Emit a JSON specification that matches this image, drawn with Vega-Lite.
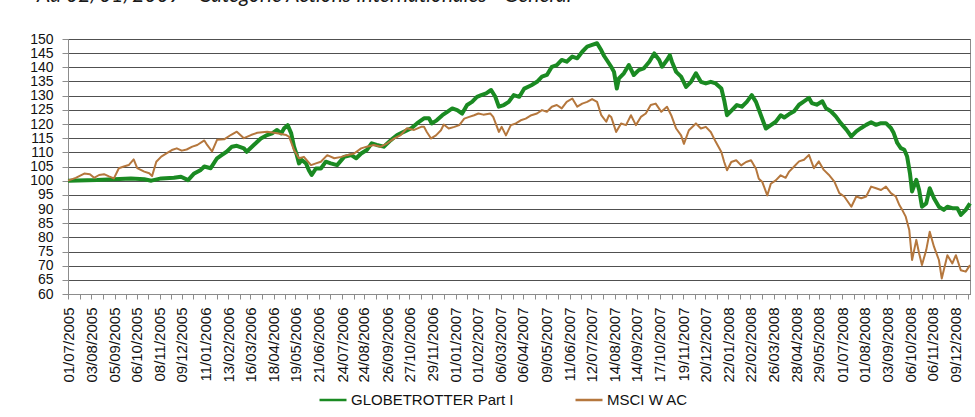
{
  "$schema": "https://vega.github.io/schema/vega-lite/v6.json",
  "width": 902,
  "height": 255,
  "autosize": {"type": "none"},
  "padding": {"left": 68, "top": 39, "right": 5, "bottom": 123},
  "background": "white",
  "title": {"text": "Au 02/01/2009 - Catégorie Actions Internationales - Général", "anchor": "start", "frame": "group", "font": "Lato", "fontStyle": "italic", "fontWeight": "normal", "fontSize": 21, "color": "#1a1a1a", "dx": -31, "dy": 14, "offset": 23, "baseline": "alphabetic"},
  "config": {
    "view": {"stroke": "#8c8c8c", "strokeWidth": 1},
    "axis": {"labelFont": "Liberation Sans", "labelFontSize": 15, "labelColor": "#111111", "tickColor": "#8c8c8c", "domainColor": "#8c8c8c", "title": null}
  },
  "datasets": {
    "globetrotter": [
      {"d":"2005-07-01","v":100},{"d":"2005-08-11","v":100.2},{"d":"2005-09-28","v":100.8},{"d":"2005-10-17","v":100.5},{"d":"2005-10-27","v":100},{"d":"2005-11-10","v":100.8},{"d":"2005-11-28","v":101},{"d":"2005-12-08","v":101.4},{"d":"2005-12-18","v":100.2},{"d":"2005-12-26","v":102.4},
      {"d":"2006-01-05","v":103.8},{"d":"2006-01-10","v":105},{"d":"2006-01-19","v":104.4},{"d":"2006-01-28","v":107.9},{"d":"2006-02-04","v":109.1},{"d":"2006-02-11","v":110.3},{"d":"2006-02-18","v":112},{"d":"2006-02-25","v":112.3},{"d":"2006-03-07","v":111.4},{"d":"2006-03-11","v":110.2},
      {"d":"2006-03-21","v":112.6},{"d":"2006-03-31","v":114.9},{"d":"2006-04-09","v":116.1},{"d":"2006-04-16","v":116.7},{"d":"2006-04-23","v":117.9},{"d":"2006-04-29","v":116.7},{"d":"2006-05-03","v":118.5},{"d":"2006-05-08","v":119.6},{"d":"2006-05-13","v":116.7},{"d":"2006-05-17","v":112},
      {"d":"2006-05-21","v":109},{"d":"2006-05-24","v":106.1},{"d":"2006-05-28","v":107.3},{"d":"2006-06-03","v":106.1},{"d":"2006-06-07","v":103.7},{"d":"2006-06-11","v":102},{"d":"2006-06-17","v":104.3},{"d":"2006-06-24","v":104.3},{"d":"2006-07-01","v":106.7},{"d":"2006-07-08","v":106.1},
      {"d":"2006-07-17","v":105.5},{"d":"2006-07-27","v":108.4},{"d":"2006-08-06","v":109},{"d":"2006-08-13","v":107.9},{"d":"2006-08-20","v":109.6},{"d":"2006-08-28","v":110.8},{"d":"2006-09-04","v":113.2},{"d":"2006-09-11","v":112.6},{"d":"2006-09-21","v":112},{"d":"2006-10-01","v":114.3},
      {"d":"2006-10-10","v":116.1},{"d":"2006-10-20","v":117.3},{"d":"2006-10-30","v":118.5},{"d":"2006-11-07","v":120.2},{"d":"2006-11-17","v":122},{"d":"2006-11-24","v":122},{"d":"2006-11-28","v":120.2},{"d":"2006-12-05","v":121.3},{"d":"2006-12-13","v":123.1},{"d":"2006-12-20","v":124.3},
      {"d":"2006-12-27","v":125.5},{"d":"2007-01-03","v":124.9},{"d":"2007-01-10","v":123.7},{"d":"2007-01-17","v":126.7},{"d":"2007-01-24","v":127.8},{"d":"2007-01-31","v":129.6},{"d":"2007-02-06","v":130.2},{"d":"2007-02-13","v":130.8},{"d":"2007-02-20","v":132},{"d":"2007-02-26","v":129.6},
      {"d":"2007-03-03","v":126.1},{"d":"2007-03-10","v":126.7},{"d":"2007-03-17","v":127.8},{"d":"2007-03-24","v":130.2},{"d":"2007-04-01","v":129.6},{"d":"2007-04-08","v":132.5},{"d":"2007-04-18","v":133.7},{"d":"2007-04-26","v":134.9},{"d":"2007-05-03","v":136.7},{"d":"2007-05-10","v":137.3},
      {"d":"2007-05-17","v":140.2},{"d":"2007-05-24","v":140.8},{"d":"2007-05-31","v":142.6},{"d":"2007-06-07","v":142},{"d":"2007-06-15","v":143.8},{"d":"2007-06-22","v":143.2},{"d":"2007-06-29","v":145.5},{"d":"2007-07-06","v":147.3},{"d":"2007-07-13","v":147.9},{"d":"2007-07-20","v":148.5},
      {"d":"2007-07-26","v":146},{"d":"2007-07-30","v":144},{"d":"2007-08-03","v":142.5},{"d":"2007-08-09","v":140.2},{"d":"2007-08-13","v":138.4},{"d":"2007-08-17","v":132.5},{"d":"2007-08-20","v":136.1},{"d":"2007-08-27","v":137.9},{"d":"2007-09-03","v":140.8},{"d":"2007-09-10","v":137.3},
      {"d":"2007-09-17","v":139},{"d":"2007-09-24","v":139.6},{"d":"2007-10-02","v":142},{"d":"2007-10-09","v":144.9},{"d":"2007-10-16","v":142.6},{"d":"2007-10-20","v":140.2},{"d":"2007-10-27","v":142.6},{"d":"2007-10-31","v":144.3},{"d":"2007-11-03","v":142},{"d":"2007-11-09","v":138.4},
      {"d":"2007-11-16","v":136.7},{"d":"2007-11-23","v":133.1},{"d":"2007-11-30","v":134.9},{"d":"2007-12-07","v":137.9},{"d":"2007-12-14","v":134.9},{"d":"2007-12-21","v":134.3},{"d":"2007-12-28","v":134.9},{"d":"2008-01-04","v":134.3},{"d":"2008-01-12","v":132.5},{"d":"2008-01-16","v":128.4},
      {"d":"2008-01-20","v":123.1},{"d":"2008-01-27","v":124.9},{"d":"2008-02-03","v":126.7},{"d":"2008-02-10","v":126.1},{"d":"2008-02-17","v":127.8},{"d":"2008-02-24","v":130.2},{"d":"2008-03-01","v":127.8},{"d":"2008-03-08","v":123.1},{"d":"2008-03-15","v":118.4},{"d":"2008-03-22","v":119.6},
      {"d":"2008-03-29","v":120.8},{"d":"2008-04-05","v":123.1},{"d":"2008-04-10","v":122.3},{"d":"2008-04-17","v":123.5},{"d":"2008-04-24","v":124.5},{"d":"2008-05-01","v":126.8},{"d":"2008-05-08","v":128},{"d":"2008-05-15","v":129.2},{"d":"2008-05-19","v":127.4},{"d":"2008-05-26","v":126.8},
      {"d":"2008-06-03","v":128},{"d":"2008-06-08","v":125.6},{"d":"2008-06-15","v":124.5},{"d":"2008-06-22","v":122.7},{"d":"2008-06-29","v":120.3},{"d":"2008-07-07","v":118},{"d":"2008-07-14","v":115.6},{"d":"2008-07-21","v":117.4},{"d":"2008-07-28","v":118.6},{"d":"2008-08-04","v":119.7},
      {"d":"2008-08-11","v":120.6},{"d":"2008-08-18","v":119.7},{"d":"2008-08-25","v":120.3},{"d":"2008-09-01","v":120.3},{"d":"2008-09-08","v":118.6},{"d":"2008-09-12","v":116.8},{"d":"2008-09-17","v":113.3},{"d":"2008-09-22","v":111.5},{"d":"2008-09-27","v":110.9},{"d":"2008-10-01","v":108.5},
      {"d":"2008-10-05","v":102.6},{"d":"2008-10-08","v":96.2},{"d":"2008-10-14","v":100.3},{"d":"2008-10-18","v":96.7},{"d":"2008-10-22","v":90.8},{"d":"2008-10-28","v":92},{"d":"2008-11-02","v":97.3},{"d":"2008-11-08","v":93.8},{"d":"2008-11-15","v":90.8},{"d":"2008-11-22","v":89.7},
      {"d":"2008-11-27","v":90.8},{"d":"2008-12-04","v":90.3},{"d":"2008-12-11","v":90.3},{"d":"2008-12-16","v":87.9},{"d":"2008-12-23","v":89.7},{"d":"2008-12-29","v":92}
    ],
    "msci": [
      {"d":"2005-07-01","v":100},{"d":"2005-07-12","v":101},{"d":"2005-07-24","v":102.5},{"d":"2005-08-01","v":102.3},{"d":"2005-08-07","v":101},{"d":"2005-08-14","v":102},{"d":"2005-08-21","v":102.3},{"d":"2005-08-28","v":101.5},{"d":"2005-09-04","v":100.8},{"d":"2005-09-11","v":104.4},
      {"d":"2005-09-18","v":105},{"d":"2005-09-25","v":105.5},{"d":"2005-10-02","v":107.5},{"d":"2005-10-07","v":104.4},{"d":"2005-10-17","v":103.2},{"d":"2005-10-24","v":102.6},{"d":"2005-10-28","v":101.6},{"d":"2005-11-03","v":106.7},{"d":"2005-11-10","v":108.5},{"d":"2005-11-18","v":109.7},
      {"d":"2005-11-25","v":110.8},{"d":"2005-12-02","v":111.4},{"d":"2005-12-09","v":110.6},{"d":"2005-12-16","v":111},{"d":"2005-12-24","v":112},{"d":"2005-12-31","v":112.6},{"d":"2006-01-10","v":114.2},{"d":"2006-01-14","v":112.6},{"d":"2006-01-21","v":110.3},{"d":"2006-01-28","v":114.4},
      {"d":"2006-02-07","v":114.6},{"d":"2006-02-17","v":116.2},{"d":"2006-02-25","v":117.3},{"d":"2006-03-07","v":115},{"d":"2006-03-17","v":116.1},{"d":"2006-03-26","v":116.9},{"d":"2006-04-09","v":117.3},{"d":"2006-04-23","v":116.7},{"d":"2006-05-06","v":116.1},{"d":"2006-05-10","v":115.5},
      {"d":"2006-05-17","v":110.8},{"d":"2006-05-24","v":107.9},{"d":"2006-05-31","v":108.4},{"d":"2006-06-10","v":105.5},{"d":"2006-06-17","v":106.1},{"d":"2006-06-24","v":106.7},{"d":"2006-07-03","v":109},{"d":"2006-07-13","v":107.9},{"d":"2006-07-23","v":108.4},{"d":"2006-07-31","v":109},
      {"d":"2006-08-10","v":109.6},{"d":"2006-08-20","v":111.4},{"d":"2006-08-28","v":112},{"d":"2006-09-07","v":112.6},{"d":"2006-09-17","v":112},{"d":"2006-09-26","v":113.2},{"d":"2006-10-06","v":114.9},{"d":"2006-10-15","v":116.1},{"d":"2006-10-24","v":118.5},{"d":"2006-11-03","v":117.9},
      {"d":"2006-11-13","v":119},{"d":"2006-11-17","v":119},{"d":"2006-11-21","v":117.2},{"d":"2006-11-27","v":114.9},{"d":"2006-12-04","v":116},{"d":"2006-12-11","v":117.8},{"d":"2006-12-15","v":119.8},{"d":"2006-12-22","v":118.4},{"d":"2006-12-30","v":119},{"d":"2007-01-06","v":119.6},
      {"d":"2007-01-13","v":121.9},{"d":"2007-01-20","v":122.5},{"d":"2007-01-27","v":123.1},{"d":"2007-02-02","v":123.7},{"d":"2007-02-09","v":123.3},{"d":"2007-02-19","v":123.7},{"d":"2007-02-23","v":122.5},{"d":"2007-03-03","v":117.2},{"d":"2007-03-07","v":119},{"d":"2007-03-13","v":116},
      {"d":"2007-03-20","v":119.6},{"d":"2007-03-27","v":120.2},{"d":"2007-04-03","v":121.3},{"d":"2007-04-10","v":121.9},{"d":"2007-04-18","v":123.1},{"d":"2007-04-26","v":123.7},{"d":"2007-05-03","v":124.9},{"d":"2007-05-10","v":124.3},{"d":"2007-05-17","v":126.1},{"d":"2007-05-24","v":126.7},
      {"d":"2007-05-31","v":125.5},{"d":"2007-06-07","v":127.8},{"d":"2007-06-15","v":129},{"d":"2007-06-22","v":126.1},{"d":"2007-06-29","v":127.2},{"d":"2007-07-06","v":127.8},{"d":"2007-07-13","v":128.8},{"d":"2007-07-20","v":127.8},{"d":"2007-07-26","v":123.1},{"d":"2007-08-02","v":120.8},
      {"d":"2007-08-06","v":123.1},{"d":"2007-08-09","v":122.5},{"d":"2007-08-16","v":117.2},{"d":"2007-08-23","v":120.2},{"d":"2007-08-30","v":119.6},{"d":"2007-09-06","v":123.1},{"d":"2007-09-13","v":119.6},{"d":"2007-09-20","v":122.5},{"d":"2007-09-27","v":123.7},{"d":"2007-10-04","v":126.7},
      {"d":"2007-10-11","v":127.2},{"d":"2007-10-19","v":124.3},{"d":"2007-10-27","v":126.1},{"d":"2007-11-02","v":123.1},{"d":"2007-11-09","v":118.4},{"d":"2007-11-16","v":116},{"d":"2007-11-20","v":113},{"d":"2007-11-27","v":117.8},{"d":"2007-12-07","v":120.2},{"d":"2007-12-14","v":118.4},
      {"d":"2007-12-21","v":119},{"d":"2007-12-28","v":117.2},{"d":"2008-01-04","v":113.7},{"d":"2008-01-12","v":110.1},{"d":"2008-01-16","v":106.6},{"d":"2008-01-20","v":103.7},{"d":"2008-01-26","v":106.6},{"d":"2008-02-02","v":107.2},{"d":"2008-02-09","v":105.4},{"d":"2008-02-16","v":106.6},
      {"d":"2008-02-23","v":107.2},{"d":"2008-03-01","v":104.2},{"d":"2008-03-05","v":100.7},{"d":"2008-03-10","v":99.5},{"d":"2008-03-17","v":94.8},{"d":"2008-03-22","v":98.9},{"d":"2008-03-29","v":100.1},{"d":"2008-04-05","v":101.9},{"d":"2008-04-12","v":101},{"d":"2008-04-17","v":103.2},
      {"d":"2008-04-24","v":105},{"d":"2008-05-01","v":106.8},{"d":"2008-05-08","v":107.4},{"d":"2008-05-15","v":109.1},{"d":"2008-05-22","v":104.4},{"d":"2008-05-29","v":106.8},{"d":"2008-06-05","v":103.8},{"d":"2008-06-12","v":102.1},{"d":"2008-06-20","v":99.7},{"d":"2008-06-27","v":95.6},
      {"d":"2008-07-04","v":94.4},{"d":"2008-07-14","v":90.8},{"d":"2008-07-21","v":94.4},{"d":"2008-07-28","v":93.8},{"d":"2008-08-04","v":94.4},{"d":"2008-08-11","v":97.9},{"d":"2008-08-18","v":97.3},{"d":"2008-08-25","v":96.7},{"d":"2008-09-01","v":97.9},{"d":"2008-09-08","v":95.6},
      {"d":"2008-09-15","v":94.4},{"d":"2008-09-20","v":91.4},{"d":"2008-09-24","v":89.7},{"d":"2008-09-29","v":87.3},{"d":"2008-10-04","v":82.6},{"d":"2008-10-08","v":72},{"d":"2008-10-14","v":79.1},{"d":"2008-10-18","v":74.3},{"d":"2008-10-22","v":70.2},{"d":"2008-10-28","v":75.5},
      {"d":"2008-11-02","v":82},{"d":"2008-11-08","v":76.7},{"d":"2008-11-15","v":72},{"d":"2008-11-19","v":65.5},{"d":"2008-11-27","v":73.7},{"d":"2008-12-04","v":70.8},{"d":"2008-12-09","v":73.7},{"d":"2008-12-16","v":68.4},{"d":"2008-12-23","v":67.9},{"d":"2008-12-29","v":70.2}
    ]
  },
  "encoding": {
    "x": {
      "field": "d", "type": "temporal",
      "scale": {"type": "utc", "domain": [{"year": 2005, "month": 7, "date": 1, "utc": true}, {"year": 2008, "month": 12, "date": 29, "utc": true}]},
      "axis": {
        "labelAngle": 270, "labelFlush": false, "labelOverlap": false, "labelPadding": 8, "tickSize": 5, "grid": false,
        "labelExpr": "utchours(datum.value) == 12 ? '' : utcFormat(datum.value, '%d/%m/%Y')",
        "values": [
          {"year":2005,"month":7,"date":1,"utc":true},{"year":2005,"month":7,"date":17,"hours":12,"utc":true},
          {"year":2005,"month":8,"date":3,"utc":true},{"year":2005,"month":8,"date":19,"hours":12,"utc":true},
          {"year":2005,"month":9,"date":5,"utc":true},{"year":2005,"month":9,"date":21,"hours":12,"utc":true},
          {"year":2005,"month":10,"date":6,"utc":true},{"year":2005,"month":10,"date":22,"hours":12,"utc":true},
          {"year":2005,"month":11,"date":8,"utc":true},{"year":2005,"month":11,"date":24,"hours":12,"utc":true},
          {"year":2005,"month":12,"date":9,"utc":true},{"year":2005,"month":12,"date":25,"hours":12,"utc":true},
          {"year":2006,"month":1,"date":11,"utc":true},{"year":2006,"month":1,"date":27,"hours":12,"utc":true},
          {"year":2006,"month":2,"date":13,"utc":true},{"year":2006,"month":3,"date":1,"hours":12,"utc":true},
          {"year":2006,"month":3,"date":16,"utc":true},{"year":2006,"month":4,"date":1,"hours":12,"utc":true},
          {"year":2006,"month":4,"date":18,"utc":true},{"year":2006,"month":5,"date":4,"hours":12,"utc":true},
          {"year":2006,"month":5,"date":19,"utc":true},{"year":2006,"month":6,"date":4,"hours":12,"utc":true},
          {"year":2006,"month":6,"date":21,"utc":true},{"year":2006,"month":7,"date":7,"hours":12,"utc":true},
          {"year":2006,"month":7,"date":24,"utc":true},{"year":2006,"month":8,"date":9,"hours":12,"utc":true},
          {"year":2006,"month":8,"date":24,"utc":true},{"year":2006,"month":9,"date":9,"hours":12,"utc":true},
          {"year":2006,"month":9,"date":26,"utc":true},{"year":2006,"month":10,"date":12,"hours":12,"utc":true},
          {"year":2006,"month":10,"date":27,"utc":true},{"year":2006,"month":11,"date":12,"hours":12,"utc":true},
          {"year":2006,"month":11,"date":29,"utc":true},{"year":2006,"month":12,"date":15,"hours":12,"utc":true},
          {"year":2007,"month":1,"date":1,"utc":true},{"year":2007,"month":1,"date":17,"hours":12,"utc":true},
          {"year":2007,"month":2,"date":1,"utc":true},{"year":2007,"month":2,"date":17,"hours":12,"utc":true},
          {"year":2007,"month":3,"date":6,"utc":true},{"year":2007,"month":3,"date":22,"hours":12,"utc":true},
          {"year":2007,"month":4,"date":6,"utc":true},{"year":2007,"month":4,"date":22,"hours":12,"utc":true},
          {"year":2007,"month":5,"date":9,"utc":true},{"year":2007,"month":5,"date":25,"hours":12,"utc":true},
          {"year":2007,"month":6,"date":11,"utc":true},{"year":2007,"month":6,"date":27,"hours":12,"utc":true},
          {"year":2007,"month":7,"date":12,"utc":true},{"year":2007,"month":7,"date":28,"hours":12,"utc":true},
          {"year":2007,"month":8,"date":14,"utc":true},{"year":2007,"month":8,"date":30,"hours":12,"utc":true},
          {"year":2007,"month":9,"date":14,"utc":true},{"year":2007,"month":9,"date":30,"hours":12,"utc":true},
          {"year":2007,"month":10,"date":17,"utc":true},{"year":2007,"month":11,"date":2,"hours":12,"utc":true},
          {"year":2007,"month":11,"date":19,"utc":true},{"year":2007,"month":12,"date":5,"hours":12,"utc":true},
          {"year":2007,"month":12,"date":20,"utc":true},{"year":2008,"month":1,"date":5,"hours":12,"utc":true},
          {"year":2008,"month":1,"date":22,"utc":true},{"year":2008,"month":2,"date":7,"hours":12,"utc":true},
          {"year":2008,"month":2,"date":22,"utc":true},{"year":2008,"month":3,"date":9,"hours":12,"utc":true},
          {"year":2008,"month":3,"date":26,"utc":true},{"year":2008,"month":4,"date":11,"hours":12,"utc":true},
          {"year":2008,"month":4,"date":28,"utc":true},{"year":2008,"month":5,"date":14,"hours":12,"utc":true},
          {"year":2008,"month":5,"date":29,"utc":true},{"year":2008,"month":6,"date":14,"hours":12,"utc":true},
          {"year":2008,"month":7,"date":1,"utc":true},{"year":2008,"month":7,"date":17,"hours":12,"utc":true},
          {"year":2008,"month":8,"date":1,"utc":true},{"year":2008,"month":8,"date":17,"hours":12,"utc":true},
          {"year":2008,"month":9,"date":3,"utc":true},{"year":2008,"month":9,"date":19,"hours":12,"utc":true},
          {"year":2008,"month":10,"date":6,"utc":true},{"year":2008,"month":10,"date":22,"hours":12,"utc":true},
          {"year":2008,"month":11,"date":6,"utc":true},{"year":2008,"month":11,"date":22,"hours":12,"utc":true},
          {"year":2008,"month":12,"date":9,"utc":true},{"year":2008,"month":12,"date":25,"hours":12,"utc":true}
        ]
      }
    },
    "y": {
      "field": "v", "type": "quantitative",
      "scale": {"domain": [60, 150], "nice": false, "zero": false},
      "axis": {"values": [60,65,70,75,80,85,90,95,100,105,110,115,120,125,130,135,140,145,150], "labelOverlap": false, "labelBound": false, "labelFontSize": 14, "grid": true, "gridColor": "#505050", "gridWidth": 1, "tickSize": 6, "labelPadding": 9}
    }
  },
  "layer": [
    {
      "data": {"name": "globetrotter"},
      "mark": {"type": "line", "strokeWidth": 4, "strokeJoin": "round", "interpolate": "linear"},
      "encoding": {
        "color": {
          "datum": "GLOBETROTTER Part I", "type": "nominal",
          "scale": {"domain": ["GLOBETROTTER Part I", "MSCI W AC"], "range": ["#1a8a22", "#b5773d"]},
          "legend": {"orient": "none", "legendX": 250, "legendY": 346, "direction": "horizontal", "title": null, "symbolType": "stroke", "symbolSize": 729, "symbolStrokeWidth": 2.5, "labelFont": "Liberation Sans", "labelFontSize": 15, "labelColor": "#111111", "labelLimit": 300, "columnPadding": 56, "labelOffset": 3}
        }
      }
    },
    {
      "data": {"name": "msci"},
      "mark": {"type": "line", "strokeWidth": 2, "strokeJoin": "round"},
      "encoding": {"color": {"datum": "MSCI W AC", "type": "nominal"}}
    }
  ]
}
